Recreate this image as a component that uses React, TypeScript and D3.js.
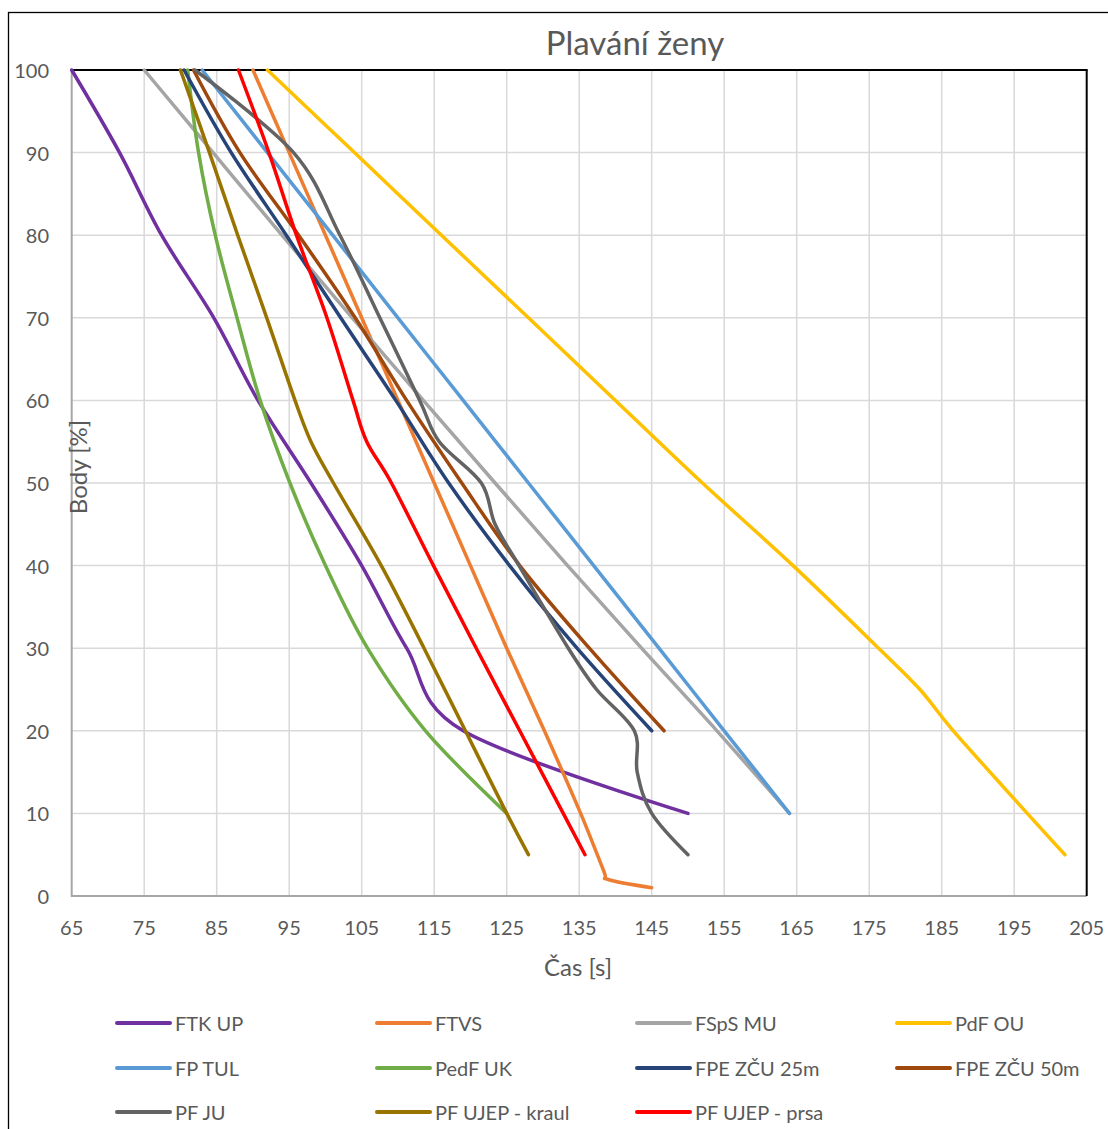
import React from "react";
import * as d3 from "d3";

// ---- data: [time s, points %] ----
const FTK_UP: [number, number][] = [[65,100],[71.6,90],[77.4,80],[84.6,70],[90.7,60],[98,50],[105,40],[111.2,30],[119,20],[150,10]];
const FTVS: [number, number][] = [[90,100],[95,90],[100,80],[105,70],[110,60],[115,50],[120,40],[125,30],[130.2,20],[135.2,10],[138.4,3],[139,2],[145,1]];
const FSPS_MU: [number, number][] = [[75,100],[84.5,90],[94,80],[103.7,70],[113.5,60],[123.4,50],[133.4,40],[143.6,30],[154,20],[164,10]];
const PDF_OU: [number, number][] = [[92,100],[104,90],[116,80],[128,70],[140,60],[152,50],[164.5,40],[176.3,30],[182,25],[186.6,20],[196.8,10],[202,5]];
const FP_TUL: [number, number][] = [[83,100],[92,90],[101,80],[110,70],[119,60],[128,50],[137,40],[146,30],[155,20],[164,10]];
const PEDF_UK: [number, number][] = [[81,100],[82.5,90],[84.8,80],[87.8,70],[91,60],[95.1,50],[100,40],[105.8,30],[113.8,20],[125,10]];
const FPE_25: [number, number][] = [[80.5,100],[87,90],[94.6,80],[102.1,70],[109.7,60],[117,50],[125.4,40],[134.7,30],[145,20]];
const FPE_50: [number, number][] = [[81.8,100],[88.2,90],[96.3,80],[104.1,70],[111.2,60],[118.8,50],[126.8,40],[136.4,30],[146.7,20]];
const PF_JU: [number, number][] = [[82,100],[95.6,90],[102,80],[107.5,70],[113,60],[115.7,55],[121.5,50],[123.4,45],[126.7,40],[133.5,30],[137.4,25],[142.6,20],[143,15],[145,10],[150,5]];
const PF_UJEP_KRAUL: [number, number][] = [[80,100],[84,90],[87.9,80],[91.9,70],[95.8,60],[98,55],[101.1,50],[107.7,40],[113.6,30],[119.3,20],[125,10],[128,5]];
const PF_UJEP_PRSA: [number, number][] = [[88,100],[92.2,90],[96,80],[100.2,70],[103.8,60],[105.7,55],[109.1,50],[114.9,40],[120.8,30],[126.8,20],[132.8,10],[135.8,5]];

const seriesNames = ["FTK UP","FTVS","FSpS MU","PdF OU","FP TUL","PedF UK","FPE ZČU 25m","FPE ZČU 50m","PF JU","PF UJEP - kraul","PF UJEP - prsa"];
const seriesData = [FTK_UP, FTVS, FSPS_MU, PDF_OU, FP_TUL, PEDF_UK, FPE_25, FPE_50, PF_JU, PF_UJEP_KRAUL, PF_UJEP_PRSA];
const seriesColors = ["#7030A0","#ED7D31","#A5A5A5","#FFC000","#5B9BD5","#70AD47","#264478","#9E480E","#636363","#997300","#FF0000"];

const xTicks = [65,75,85,95,105,115,125,135,145,155,165,175,185,195,205];
const yTicks = [0,10,20,30,40,50,60,70,80,90,100];

const TITLE = "Plavání ženy";
const X_TITLE = "Čas [s]";
const Y_TITLE = "Body [%]";

const FONT = "Lato, 'Open Sans', sans-serif";
const TXT = "#595959";

export default function App() {
  const L = 71.7, R = 1086.7, T = 70, B = 896;
  const x = d3.scaleLinear().domain([65, 205]).range([L, R]);
  const y = d3.scaleLinear().domain([0, 100]).range([B, T]);
  const line = d3.line<[number, number]>()
    .x(d => x(d[0]))
    .y(d => y(d[1]))
    .curve(d3.curveCardinal.tension(0));

  const legendCols = [117, 377, 637, 897];
  const legendRows = [1023, 1068, 1112];

  return (
    <svg width={1108} height={1129} style={{ position: "absolute", left: 0, top: 0, display: "block", background: "#fff" }}>
      <rect x={8.5} y={12.5} width={1300} height={1300} fill="#fff" stroke="#000" strokeWidth={1.3} />
      <text x={635} y={42} textAnchor="middle" dominantBaseline="central" fontFamily={FONT} fontSize={33} fill={TXT}>{TITLE}</text>

      {/* grid */}
      {xTicks.filter(t => t !== 65 && t !== 205).map(t => (
        <line key={"gx" + t} x1={x(t)} x2={x(t)} y1={T} y2={B} stroke="#D9D9D9" strokeWidth={1.5} />
      ))}
      {yTicks.filter(t => t !== 0 && t !== 100).map(t => (
        <line key={"gy" + t} x1={L} x2={R} y1={y(t)} y2={y(t)} stroke="#D9D9D9" strokeWidth={1.5} />
      ))}
      {/* axes */}
      <line x1={L} x2={L} y1={T} y2={B + 1} stroke="#A6A6A6" strokeWidth={2} />
      <line x1={L} x2={R} y1={B} y2={B} stroke="#A6A6A6" strokeWidth={2} />
      <line x1={L} x2={R + 1} y1={T} y2={T} stroke="#000" strokeWidth={2} />
      <line x1={R} x2={R} y1={T} y2={B} stroke="#000" strokeWidth={2} />

      {/* tick labels */}
      {yTicks.map(t => (
        <text key={"yl" + t} x={49} y={y(t)} textAnchor="end" dominantBaseline="central" fontFamily={FONT} fontSize={20} fill={TXT}>{t}</text>
      ))}
      {xTicks.map(t => (
        <text key={"xl" + t} x={x(t)} y={927} textAnchor="middle" dominantBaseline="central" fontFamily={FONT} fontSize={20} fill={TXT}>{t}</text>
      ))}

      {/* series */}
      {seriesData.map((d, i) => (
        <path key={"s" + i} d={line(d) || ""} fill="none" stroke={seriesColors[i]} strokeWidth={3.5} strokeLinecap="round" strokeLinejoin="round" />
      ))}

      {/* axis titles */}
      <text x={578} y={966} textAnchor="middle" dominantBaseline="central" fontFamily={FONT} fontSize={24} fill={TXT}>{X_TITLE}</text>
      <text transform="translate(77,467) rotate(-90)" textAnchor="middle" dominantBaseline="central" fontFamily={FONT} fontSize={24} fill={TXT}>{Y_TITLE}</text>

      {/* legend */}
      {seriesNames.map((n, i) => {
        const cx = legendCols[i % 4];
        const cy = legendRows[Math.floor(i / 4)];
        return (
          <g key={"lg" + i}>
            <line x1={cx} x2={cx + 53} y1={cy} y2={cy} stroke={seriesColors[i]} strokeWidth={4} strokeLinecap="round" />
            <text x={cx + 58} y={cy} dominantBaseline="central" fontFamily={FONT} fontSize={20} fill={TXT}>{n}</text>
          </g>
        );
      })}
    </svg>
  );
}
